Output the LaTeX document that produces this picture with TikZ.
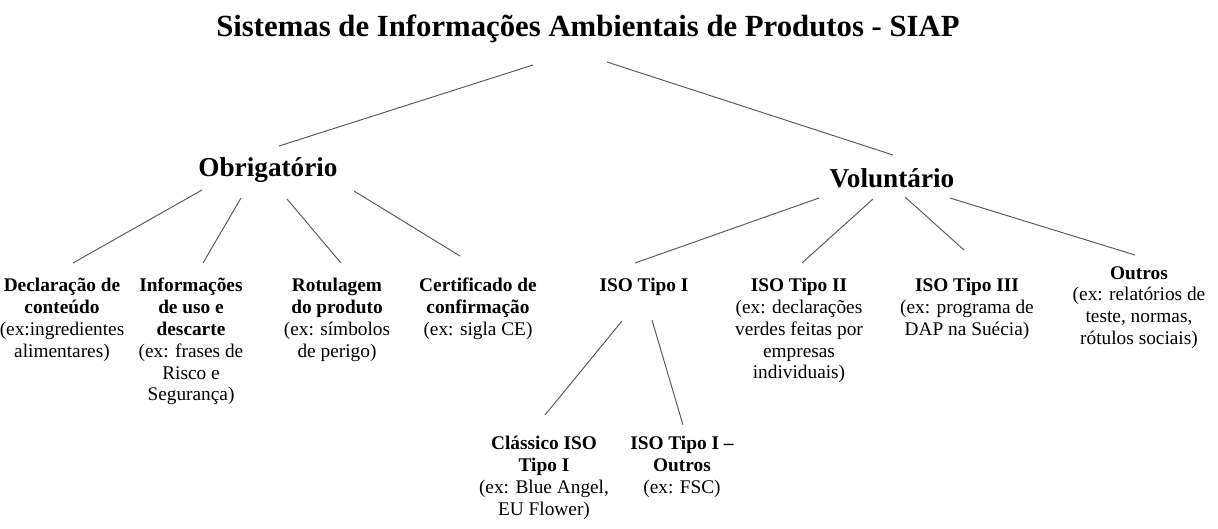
\documentclass[tikz,border=0pt]{standalone}
\usepackage{fontspec}
\setmainfont{Liberation Serif}

\tikzset{
  titulo/.style={font=\fontsize{17.5}{21}\selectfont\bfseries, inner sep=0pt, anchor=base},
  grupo/.style={font=\fontsize{15.5}{18}\selectfont\bfseries, inner sep=0pt, anchor=base},
  folha/.style={font=\fontsize{11}{12.4}\selectfont, align=center, inner sep=0pt, anchor=north},
  ramo/.style={draw=black!65, line width=0.55pt},
}

\begin{document}
\begin{tikzpicture}[x=0.02cm,y=-0.02cm]
  \useasboundingbox (0,0) rectangle (1218,528);

  %% topo e os dois grupos
  \node [titulo] (siap) at (588,36) {Sistemas de Informações Ambientais de Produtos - SIAP};
  \node [grupo] (obrig) at (268,176) {Obrigatório};
  \node [grupo] (volun) at (892,187) {Voluntário};

  %% ramo obrigatorio
  \node [folha] (decl) at (62,278) {\textbf{Declaração de}\\\textbf{conteúdo}\\(ex:ingredientes\\alimentares)};
  \node [folha] (info) at (191,278) {\textbf{Informações}\\\textbf{de uso e}\\\textbf{descarte}\\(ex: frases de\\Risco e\\Segurança)};
  \node [folha] (rotul) at (337,278) {\textbf{Rotulagem}\\\textbf{do produto}\\(ex: símbolos\\de perigo)};
  \node [folha] (certif) at (478,278) {\textbf{Certificado de}\\\textbf{confirmação}\\(ex: sigla CE)};

  %% ramo voluntario
  \node [folha] (isoI) at (644,278) {\textbf{ISO Tipo I}};
  \node [folha] (isoII) at (799,278) {\textbf{ISO Tipo II}\\(ex: declarações\\verdes feitas por\\empresas\\individuais)};
  \node [folha] (isoIII) at (967,278) {\textbf{ISO Tipo III}\\(ex: programa de\\DAP na Suécia)};
  \node [folha] (outros) at (1139,266) {\textbf{Outros}\\(ex: relatórios de\\teste, normas,\\rótulos sociais)};
  \node [folha] (classico) at (544,436) {\textbf{Clássico ISO}\\\textbf{Tipo I}\\(ex: Blue Angel,\\EU Flower)};
  \node [folha] (isoIoutros) at (682,436) {\textbf{ISO Tipo I --}\\\textbf{Outros}\\(ex: FSC)};

  %% linhas (nao tocam o texto)
  \draw [ramo] ([shift={(-55,29)}]siap.base) -- ([shift={(11,-30)}]obrig.base);
  \draw [ramo] ([shift={(19,26)}]siap.base) -- ([shift={(1,-32)}]volun.base);

  \draw [ramo] ([shift={(-66,14)}]obrig.base) -- ([shift={(11,-15)}]decl.north);
  \draw [ramo] ([shift={(-27,22)}]obrig.base) -- ([shift={(12,-15)}]info.north);
  \draw [ramo] ([shift={(19,23)}]obrig.base) -- ([shift={(4,-15)}]rotul.north);
  \draw [ramo] ([shift={(86,15)}]obrig.base) -- ([shift={(-18,-22)}]certif.north);

  \draw [ramo] ([shift={(-73,11)}]volun.base) -- ([shift={(-9,-15)}]isoI.north);
  \draw [ramo] ([shift={(-19,12)}]volun.base) -- ([shift={(3,-15)}]isoII.north);
  \draw [ramo] ([shift={(13,10)}]volun.base) -- ([shift={(-3,-28)}]isoIII.north);
  \draw [ramo] ([shift={(58,11)}]volun.base) -- ([shift={(-4,-11)}]outros.north);

  \draw [ramo] ([shift={(-22,43)}]isoI.north) -- ([shift={(1,-21)}]classico.north);
  \draw [ramo] ([shift={(8,42)}]isoI.north) -- ([shift={(1,-11)}]isoIoutros.north);
\end{tikzpicture}
\end{document}
